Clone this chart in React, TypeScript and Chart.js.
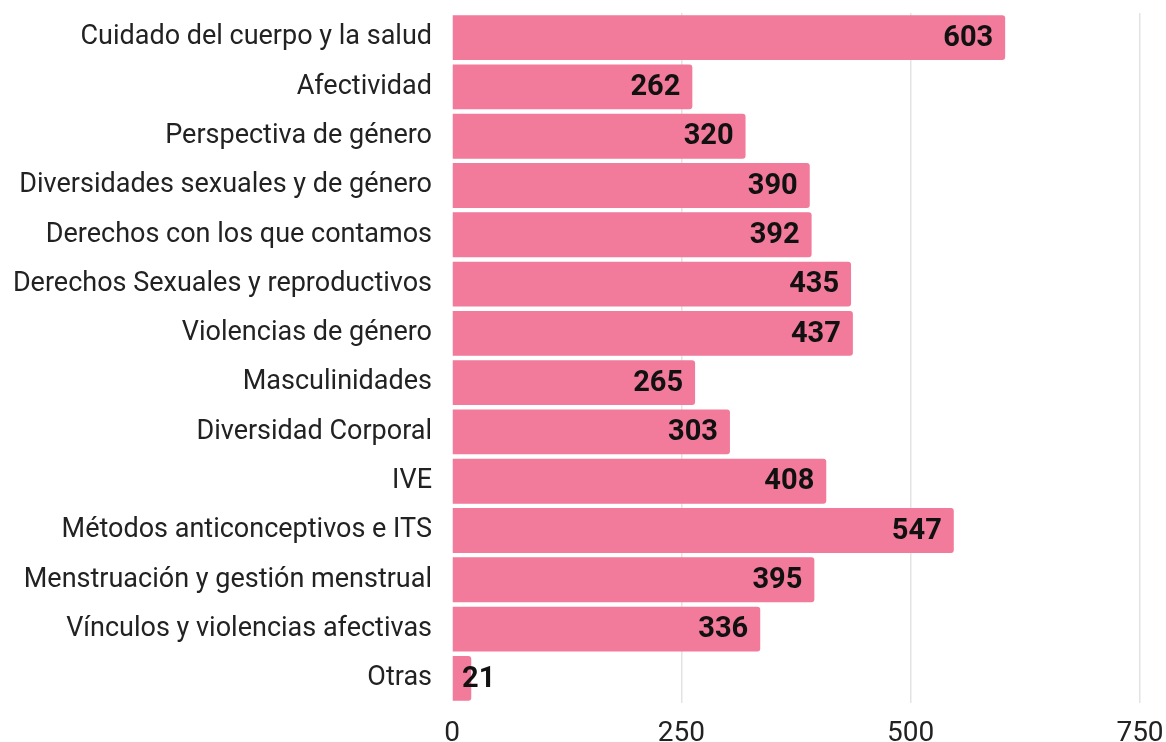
import React, { useEffect, useRef } from "react";
import { Chart, registerables } from "chart.js";

Chart.register(...registerables);

const categories = [
  "Cuidado del cuerpo y la salud",
  "Afectividad",
  "Perspectiva de género",
  "Diversidades sexuales y de género",
  "Derechos con los que contamos",
  "Derechos Sexuales y reproductivos",
  "Violencias de género",
  "Masculinidades",
  "Diversidad Corporal",
  "IVE",
  "Métodos anticonceptivos e ITS",
  "Menstruación y gestión menstrual",
  "Vínculos y violencias afectivas",
  "Otras",
];
const values = [603, 262, 320, 390, 392, 435, 437, 265, 303, 408, 547, 395, 336, 21];
const xTicks = [0, 250, 500, 750];

const FONT = "Roboto, 'Noto Sans', sans-serif";

const valueLabels = {
  id: "valueLabels",
  afterDatasetsDraw(chart: any) {
    const ctx = chart.ctx;
    const meta = chart.getDatasetMeta(0);
    const base = chart.scales.x.getPixelForValue(0);
    ctx.save();
    ctx.font = `bold 29px ${FONT}`;
    ctx.fillStyle = "#111111";
    ctx.textBaseline = "middle";
    meta.data.forEach((bar: any, i: number) => {
      const txt = String(values[i]);
      const w = ctx.measureText(txt).width;
      let x = bar.x - 12 - w;
      if (x < base + 10) x = base + 10;
      ctx.textAlign = "left";
      ctx.fillText(txt, x, bar.y + 1);
    });
    ctx.restore();
  },
};

export default function App() {
  const ref = useRef<HTMLCanvasElement>(null);
  useEffect(() => {
    if (!ref.current) return;
    const chart = new Chart(ref.current, {
      type: "bar",
      data: {
        labels: categories,
        datasets: [
          {
            data: values,
            backgroundColor: "#f27a9b",
            borderRadius: { topLeft: 0, bottomLeft: 0, topRight: 3, bottomRight: 3 },
            borderSkipped: "start",
            categoryPercentage: 0.91,
            barPercentage: 1,
          },
        ],
      },
      options: {
        indexAxis: "y",
        animation: false,
        responsive: false,
        maintainAspectRatio: false,
        layout: { padding: { top: 13, right: 0, left: 0, bottom: 0 } },
        plugins: { legend: { display: false }, tooltip: { enabled: false } },
        scales: {
          x: {
            min: 0,
            max: 750,
            afterBuildTicks: (s: any) => {
              s.ticks = xTicks.map((v) => ({ value: v }));
            },
            grid: {
              drawTicks: false,
              color: (c: any) => (c.tick && c.tick.value === 0 ? "rgba(0,0,0,0)" : "#e3e3e3"),
              lineWidth: 1.5,
            },
            border: { display: false },
            ticks: {
              padding: 14,
              color: "#222222",
              font: { family: FONT, size: 28 },
            },
            afterFit: (s: any) => {
              s.height = 39;
              s.paddingLeft = 0;
              s.paddingRight = 26;
            },
          },
          y: {
            grid: { display: false, drawTicks: false },
            border: { display: false },
            ticks: {
              padding: 20,
              color: "#222222",
              font: { family: FONT, size: 27 },
            },
            afterFit: (s: any) => {
              s.width = 452;
              s.paddingTop = 0;
              s.paddingBottom = 0;
            },
          },
        },
      },
      plugins: [valueLabels],
    });
    return () => chart.destroy();
  }, []);
  return (
    <div style={{ position: "fixed", left: 0, top: 0, width: 1166, height: 742, background: "#fff" }}>
      <canvas ref={ref} width={1166} height={742} style={{ display: "block" }} />
    </div>
  );
}
